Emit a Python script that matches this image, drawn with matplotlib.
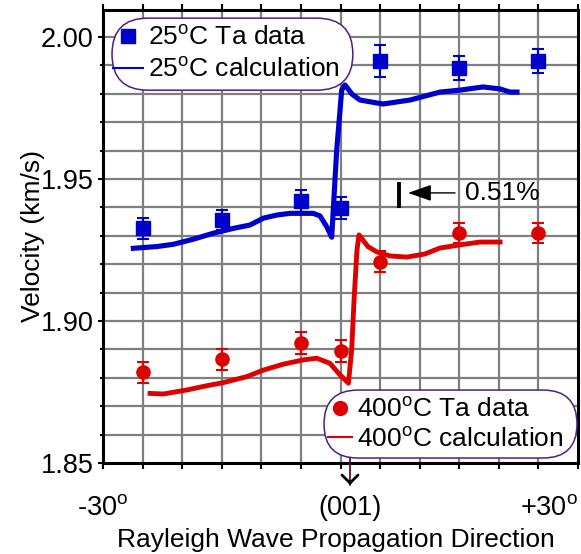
import matplotlib
matplotlib.use("Agg")
import matplotlib.pyplot as plt
from matplotlib.lines import Line2D
from matplotlib.patches import FancyBboxPatch
import numpy as np

plt.rcParams["font.family"] = ["Liberation Sans", "DejaVu Sans"]
plt.rcParams["mathtext.fontset"] = "custom"
plt.rcParams["mathtext.rm"] = "Liberation Sans"

# measured points (deg from (001), km/s)
angle_25 = [-25, -15, -5, 0, 5, 15, 25]
vel_25 = [1.9327, 1.9356, 1.9423, 1.9398, 1.9915, 1.9891, 1.9916]
err_25 = [0.0037, 0.0034, 0.0039, 0.0039, 0.0057, 0.0042, 0.0042]

angle_400 = [-25, -15, -5, 0, 5, 15, 25]
vel_400 = [1.8820, 1.8866, 1.8923, 1.8894, 1.9208, 1.9310, 1.9310]
err_400 = [0.0037, 0.0037, 0.0039, 0.0039, 0.0037, 0.0034, 0.0034]

# calculated curves
calc_angle_25 = [-26.17, -23.22, -21.12, -18.59, -16.07, -13.54, -11.43, -9.75, -8.06,
                 -6.38, -3.44, -2.59, -1.74, -1.11, -0.48, 0.15, 0.57, 1.45, 2.46,
                 5.37, 8.78, 12.57, 15.10, 18.0, 20.15, 21.41, 22.29]
calc_vel_25 = [1.9256, 1.9262, 1.9270, 1.9288, 1.9309, 1.9326, 1.9338, 1.9362, 1.9373,
               1.9379, 1.9379, 1.9370, 1.9332, 1.9295, 1.9602, 1.9813, 1.9831, 1.9799, 1.9778,
               1.9764, 1.9778, 1.9806, 1.9813, 1.9824, 1.9817, 1.9806, 1.9806]

calc_angle_400 = [-24.06, -22.38, -19.43, -16.90, -14.80, -11.85, -9.75, -7.22, -4.70,
                  -3.01, -1.33, -0.06, 1.0, 1.41, 1.71, 2.08, 2.34, 3.47, 4.61, 6.25,
                  8.40, 10.67, 12.57, 15.10, 17.62, 20.15]
calc_vel_400 = [1.8745, 1.8743, 1.8757, 1.8772, 1.8783, 1.8804, 1.8827, 1.8848, 1.8863,
                1.8869, 1.8851, 1.8810, 1.8781, 1.8898, 1.9074, 1.9250, 1.9303, 1.9262, 1.9243, 1.9229,
                1.9225, 1.9236, 1.9257, 1.9268, 1.9278, 1.9278]

x_tick_pos = [-30, 1.2, 30]
x_tick_labels = ["-30$^\\mathregular{o}$", "(001)", "+30$^\\mathregular{o}$"]
y_ticks = [1.85, 1.90, 1.95, 2.00]

blue = "#0000cc"
red = "#dd0000"
frame_col = "#4b2080"
grid_col = "#7f7f7f"

fig = plt.figure(figsize=(5.81, 5.54), dpi=100)
ax = fig.add_axes([103 / 581, 91 / 554, 475 / 581, 453 / 554])

ax.set_xlim(-30, 30)
ax.set_ylim(1.85, 2.0095)

ax.set_xticks(np.arange(-30, 31, 5))
ax.set_xticklabels([])
ax.set_yticks(y_ticks)
ax.set_yticklabels(["%.2f" % v for v in y_ticks])
ax.set_yticks(np.arange(1.85, 2.005, 0.01), minor=True)

ax.tick_params(axis="x", which="major", direction="out", top=True, length=4.5, width=1.5)
ax.tick_params(axis="y", which="major", direction="out", length=3.8, width=1.5, labelsize=19.5, pad=3)
ax.tick_params(axis="y", which="minor", direction="out", length=2.2, width=1.5)
for s in ax.spines.values():
    s.set_linewidth(2.2)

# grid
for gx in np.arange(-25, 30, 5):
    ax.axvline(gx, color=grid_col, linewidth=1.6, zorder=1)
for gy in np.arange(1.86, 2.005, 0.01):
    ax.axhline(gy, color=grid_col, linewidth=1.6, zorder=1)

# curves and data
ax.plot(calc_angle_25, calc_vel_25, color=blue, lw=3.7, solid_joinstyle="round", zorder=3)
ax.plot(calc_angle_400, calc_vel_400, color=red, lw=3.5, solid_joinstyle="round", zorder=3)
ax.errorbar(angle_25, vel_25, yerr=err_25, fmt="s", color=blue, ms=9.5,
            elinewidth=1.5, capsize=4.5, capthick=1.5, zorder=4)
ax.errorbar(angle_400, vel_400, yerr=err_400, fmt="o", color=red, ms=9.5,
            elinewidth=1.5, capsize=4.5, capthick=1.5, zorder=4)

# 0.51% marker
ax.plot([7.39, 7.39], [1.9398, 1.9489], color="black", lw=2.8, solid_capstyle="butt")
ax.annotate("", xy=(8.53, 1.9451), xytext=(14.46, 1.9451),
            arrowprops=dict(arrowstyle="-|>,head_length=1.0,head_width=0.35",
                            mutation_scale=14.4, color="black", lw=1.0,
                            shrinkA=0, shrinkB=0))
ax.text(15.73, 1.9451, "0.51%", fontsize=19, ha="left", va="center")

# x tick labels
for pos, lab, ha in zip(x_tick_pos, x_tick_labels, ["center", "center", "right"]):
    ax.text(pos, -0.1148, lab, fontsize=19.5, ha=ha, va="baseline",
            transform=ax.get_xaxis_transform())

# (001) pointer
ax.annotate("", xy=(1.2, -0.0486), xytext=(1.2, 0.0105),
            xycoords=("data", "axes fraction"), textcoords=("data", "axes fraction"),
            arrowprops=dict(arrowstyle="-", color="#5a1030", lw=1.3, shrinkA=0, shrinkB=0),
            annotation_clip=False)
ax.annotate("", xy=(1.2, -0.0486), xytext=(1.2, -0.040),
            xycoords=("data", "axes fraction"), textcoords=("data", "axes fraction"),
            arrowprops=dict(arrowstyle="->,head_length=0.4,head_width=0.4",
                            mutation_scale=14.4, color="black", lw=2.0,
                            shrinkA=0, shrinkB=0),
            annotation_clip=False)

ax.set_xlabel("Rayleigh Wave Propagation Direction", fontsize=19)
ax.xaxis.set_label_coords(0.49, -0.144)
ax.set_ylabel("Velocity (km/s)", fontsize=19)
ax.yaxis.set_label_coords(-0.122, 0.5)

# legends: pill-shaped frames drawn separately
asp = (36 / 453) / (36 / 475)
for x0, y0, w, h in [(0.019, 0.823, 0.507, 0.159), (0.4653, 0.011, 0.5326, 0.150)]:
    ax.add_patch(FancyBboxPatch((x0, y0), w, h, boxstyle="round,pad=0,rounding_size=%.4f" % (h * 0.5 / asp),
                                mutation_aspect=asp, transform=ax.transAxes,
                                facecolor="white", edgecolor=frame_col, lw=1.1, zorder=4.9,
                                clip_on=False))

h1 = [Line2D([], [], marker="s", ls="none", color=blue, ms=10),
      Line2D([], [], color=blue, lw=1.5)]
leg1 = ax.legend(h1, ["25$^\\mathregular{o}$C Ta data", "25$^\\mathregular{o}$C calculation"],
                 loc="upper left", bbox_to_anchor=(0.021, 0.966), borderaxespad=0,
                 fontsize=19, handlelength=1.14, handletextpad=0.19, labelspacing=0.265,
                 borderpad=0, frameon=False)
ax.add_artist(leg1)

h2 = [Line2D([], [], marker="o", ls="none", color=red, ms=10),
      Line2D([], [], color=red, lw=1.5)]
leg2 = ax.legend(h2, ["400$^\\mathregular{o}$C Ta data", "400$^\\mathregular{o}$C calculation"],
                 loc="lower left", bbox_to_anchor=(0.4737, 0.025), borderaxespad=0,
                 fontsize=19, handlelength=0.91, handletextpad=0.19, labelspacing=0.19,
                 borderpad=0, frameon=False)

plt.savefig("out.png", dpi=100)
